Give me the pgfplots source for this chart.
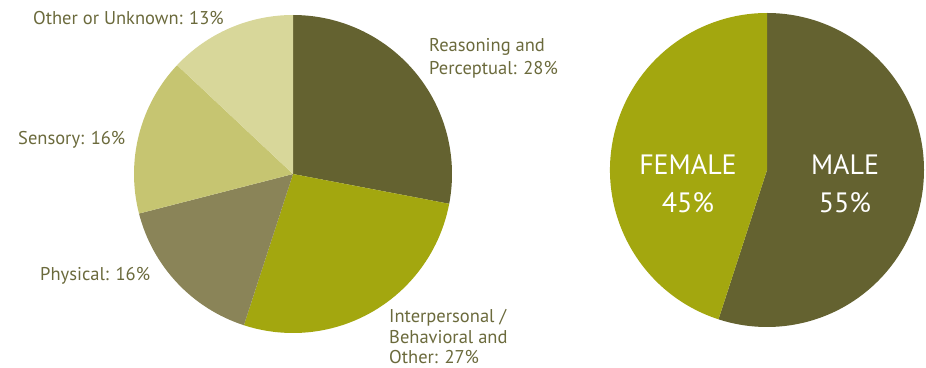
\documentclass[border=0pt]{standalone}
\usepackage{fontspec}
\setmainfont{PT Sans}
\usepackage{pgfplots}
\pgfplotsset{compat=1.18}
\definecolor{creas}{HTML}{646230}
\definecolor{cinter}{HTML}{A3A70F}
\definecolor{cphys}{HTML}{8A8458}
\definecolor{csens}{HTML}{C6C571}
\definecolor{cother}{HTML}{D8D79A}
\definecolor{ctext}{HTML}{6B6A3C}
% #1,#2 centre (axis units), #3 radius (pt), #4 cumulative percent before slice, #5 slice percent, #6 colour
\newcommand\pieslice[6]{%
  \fill[#6] (axis cs:#1,#2) -- ++({90-3.6*#4}:#3pt)
    arc[start angle={90-3.6*#4}, delta angle={-3.6*#5}, radius=#3pt] -- cycle;}
\begin{document}
\begin{tikzpicture}
\begin{axis}[x=1pt, y=1pt, xmin=0, xmax=926, ymin=0, ymax=367,
  hide axis, clip=false, scale only axis]
% Disability type (percent)
\pieslice{293}{193}{159}{0}{28}{creas}
\pieslice{293}{193}{159}{28}{27}{cinter}
\pieslice{293}{193}{159}{55}{16}{cphys}
\pieslice{293}{193}{159}{71}{16}{csens}
\pieslice{293}{193}{159}{87}{13}{cother}
% Gender (percent)
\pieslice{767}{197}{157}{0}{55}{creas}
\pieslice{767}{197}{157}{55}{45}{cinter}
\begin{scope}[every node/.style={font=\fontsize{18.5}{23}\selectfont, text=ctext, inner sep=0pt}]
\node[anchor=base west] at (axis cs:33,342) {Other or Unknown: 13\%};
\node[anchor=base west] at (axis cs:429,315) {Reasoning and};
\node[anchor=base west] at (axis cs:429,292) {Perceptual: 28\%};
\node[anchor=base west] at (axis cs:18,222) {Sensory: 16\%};
\node[anchor=base west] at (axis cs:40,87) {Physical: 16\%};
\node[anchor=base west] at (axis cs:389,45) {Interpersonal /};
\node[anchor=base west] at (axis cs:389,24) {Behavioral and};
\node[anchor=base west] at (axis cs:389,4) {Other: 27\%};
\end{scope}
\begin{scope}[every node/.style={font=\fontsize{28}{34}\selectfont, text=white, inner sep=0pt}]
\node[anchor=base] at (axis cs:688,192) {FEMALE};
\node[anchor=base] at (axis cs:688,154) {45\%};
\node[anchor=base] at (axis cs:845,192) {MALE};
\node[anchor=base] at (axis cs:845,154) {55\%};
\end{scope}
\end{axis}
\pgfresetboundingbox
\path (current axis.south west) rectangle (current axis.north east);
\end{tikzpicture}
\end{document}
